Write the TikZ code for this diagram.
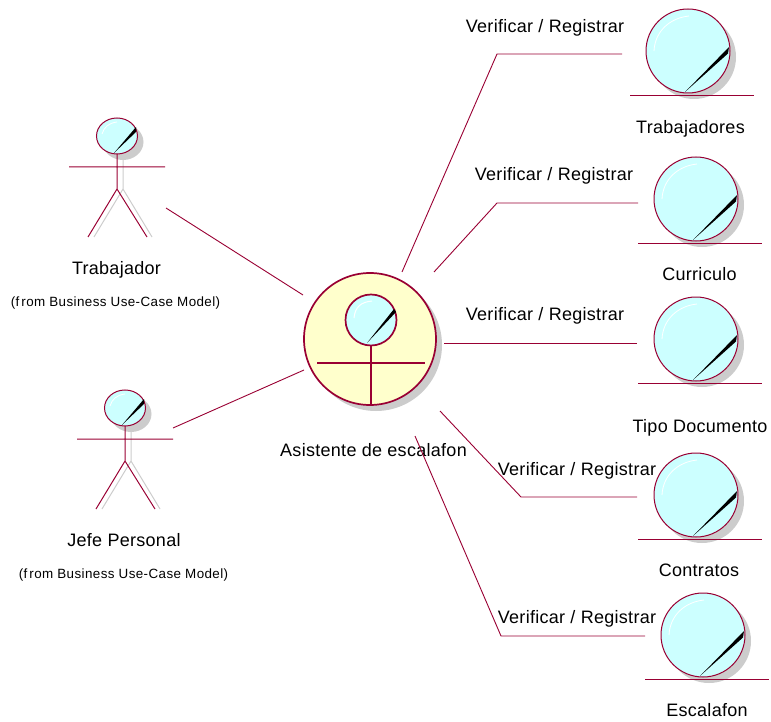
\documentclass[tikz,border=0pt]{standalone}
\usepackage{fontspec}
\setmainfont{Liberation Sans}
\newfontfamily\lblfont[LetterSpace=1.6]{Liberation Sans}
\newfontfamily\smallfont[LetterSpace=3]{Liberation Sans}
\definecolor{rline}{HTML}{990033}
\definecolor{orbfill}{HTML}{CCFFFF}
\definecolor{bigfill}{HTML}{FFFFCC}
\definecolor{shadowgray}{HTML}{CCCCCC}
\tikzset{
  x=1pt,y=-1pt,
  link/.style={draw=rline,line width=0.9pt},
  lbl/.style={inner sep=0pt,font=\lblfont\fontsize{18}{20}\selectfont,text=black},
  small/.style={inner sep=0pt,font=\smallfont\fontsize{13.4}{15}\selectfont,text=black},
  pics/orb/.style={code={
    \fill[shadowgray] (6,6) circle[radius=42];
    \draw[rline,fill=orbfill,line width=1pt] (0,0) circle[radius=42];
    \draw[white,line width=0.8pt] (-34,0) .. controls (-33,-20) and (-18,-33) .. (1,-35);
    \fill[black] (-3,41) -- (41,-4) -- (40,2.5) -- cycle;
    \draw[rline,line width=1pt] (-58,44.5) -- (66,44.5);
  }},
  pics/actorfig/.style={code={
    \fill[shadowgray] (6,6) ellipse[x radius=20.5,y radius=18];
    \draw[shadowgray,line width=1pt] (6,24) -- (6,53) (-23,101) -- (6,53) -- (35,101);
    \draw[rline,fill=orbfill,line width=1pt] (0,0) ellipse[x radius=20.5,y radius=18];
    \draw[white,line width=0.8pt] (-15,-2) .. controls (-13,-9) and (-8,-13) .. (0,-14);
    \fill[black] (-3,17) -- (19,-9) -- (19,-4) -- cycle;
    \draw[rline,line width=1pt] (-48,31) -- (48,31) (0,18) -- (0,53) (-29,101) -- (0,53) -- (30,101);
  }}
}
\begin{document}
\begin{tikzpicture}
\useasboundingbox (0,0) rectangle (771,722);
% actors
\pic at (117,136) {actorfig};
\pic at (125,408) {actorfig};
\node[lbl] (trabajador) at (116.5,270) {Trabajador};
\node[small] (from1) at (115.5,303) {(f\kern2pt rom Business Use-Case Model)};
\node[lbl] (jefe) at (124,540) {Jefe Personal};
\node[small] (from2) at (123.5,575) {(f\kern2pt rom Business Use-Case Model)};
% central business worker
\fill[shadowgray] (376,345) circle[radius=66];
\draw[rline,fill=bigfill,line width=1.7pt] (370,339) circle[radius=66];
\draw[rline,fill=orbfill,line width=1.7pt] (371,320) circle[radius=25.5];
\draw[white,line width=1pt] (354,318) .. controls (355,307) and (361,302) .. (372,301);
\fill[black] (367,343) -- (394,309) -- (396,312) -- cycle;
\draw[rline,line width=1.7pt] (317,363) -- (425,363) (371,345.5) -- (371,404);
\node[lbl] (asistente) at (373.5,450) {Asistente de escalafon};
% entities
\pic at (688,51) {orb};
\pic at (696,199) {orb};
\pic at (696,339) {orb};
\pic at (696,495) {orb};
\pic at (703,635) {orb};
\node[lbl] (n1) at (690.5,129) {Trabajadores};
\node[lbl] (n2) at (699.5,274) {Curriculo};
\node[lbl] (n3) at (700,428) {Tipo Documento};
\node[lbl] (n4) at (699,570) {Contratos};
\node[lbl] (n5) at (707,710) {Escalafon};
% connector ends
\coordinate (a1) at (166,208); \coordinate (a2) at (303,295);
\coordinate (b1) at (173,428); \coordinate (b2) at (304,370);
\coordinate (c1) at (402,272); \coordinate (c2) at (622,54);
\coordinate (d1) at (434,272); \coordinate (d2) at (638,203);
\coordinate (e1) at (444,343.5); \coordinate (e2) at (637,343.5);
\coordinate (f1) at (440,411); \coordinate (f2) at (637,497);
\coordinate (g1) at (415,436); \coordinate (g2) at (645,636);
\draw[link] (a1) -- (a2);
\draw[link] (b1) -- (b2);
\draw[link] (c1) -- (497,54) -- (c2);
\draw[link] (d1) -- (497,203) -- (d2);
\draw[link] (e1) -- (e2);
\draw[link] (f1) -- (521,497) -- (f2);
\draw[link] (g1) -- (501,636) -- (g2);
% labels
\node[lbl] (v1) at (545,28) {Verificar / Registrar};
\node[lbl] (v2) at (554,176) {Verificar / Registrar};
\node[lbl] (v3) at (545,316) {Verificar / Registrar};
\node[lbl] (v4) at (577,471) {Verificar / Registrar};
\node[lbl] (v5) at (577,619) {Verificar / Registrar};
\end{tikzpicture}
\end{document}
